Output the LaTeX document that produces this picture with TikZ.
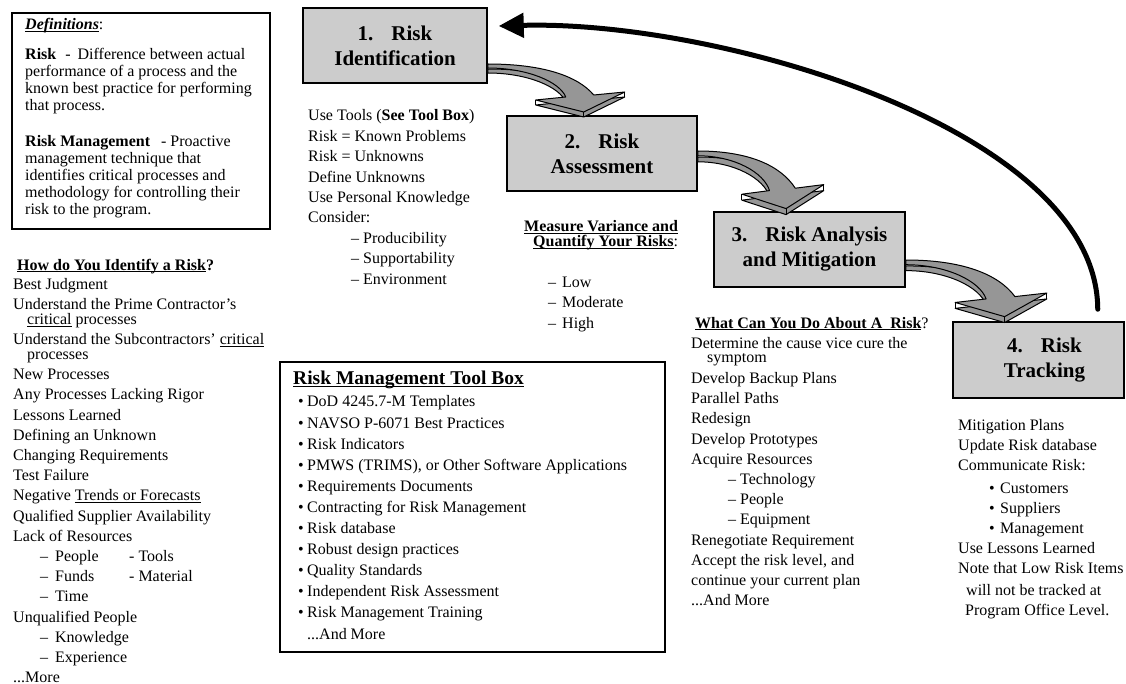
\documentclass[tikz,border=0pt]{standalone}
\usepackage{fontspec}
\setmainfont{Liberation Serif}
\usetikzlibrary{arrows.meta,calc}
\definecolor{boxgray}{RGB}{204,204,204}
\definecolor{arrgray}{RGB}{150,150,150}
\newcommand{\ulin}[1]{\setbox0\hbox{#1}\rlap{\rule[-2.2pt]{\wd0}{0.9pt}}\box0\relax}
\newcommand{\bul}{\makebox[9pt][l]{•}}
\tikzset{
  txt/.style={anchor=base west, inner sep=0pt, align=left, font=\fontsize{16}{20.2}\selectfont},
  stepbox/.style={draw=black, line width=1.5pt, fill=boxgray, align=center, inner sep=0pt,
    font=\bfseries\fontsize{21}{25}\selectfont},
  framebox/.style={draw=black, inner sep=0pt},
  garrowface/.style={fill=arrgray, draw=black, line width=1pt, line join=round},
  bigarrow/.style={line width=5pt, line cap=round, -{Triangle[length=25pt,width=24pt]}},
  garrow/.pic={
    \path[garrowface] (0,5) .. controls (55,5) and (90,17) .. (106,36) -- (137,33) -- (96,53) -- (48,41) -- (78,38) .. controls (72,23) and (40,9) .. (0,9) -- cycle;
    \draw[line width=1pt] (137,28) -- (137,33) (96,48) -- (96,53) (48,36) -- (48,41);
    \path[garrowface] (0,0) .. controls (55,0) and (90,12) .. (106,31) -- (137,28) -- (96,48) -- (48,36) -- (78,33) .. controls (72,18) and (40,4) .. (0,4) -- cycle;
  }
}
\begin{document}
\begin{tikzpicture}[x=1pt,y=-1pt]
\useasboundingbox (0,0) rectangle (1126,684);

% definitions box
\node[framebox, line width=1.5pt, minimum width=258pt, minimum height=216pt] (defbox) at (141,121) {};
\node[txt, font=\fontsize{16}{17}\selectfont] (deftext) at (25,215) {\ulin{\textbf{\textit{Definitions}}}:\\[13pt]
\textbf{Risk}\hspace{9pt}-\hspace{7pt}Difference between actual\\
performance of a process and the\\
known best practice for performing\\
that process.\\[19pt]
\textbf{Risk Management}\hspace{11pt}-\hspace{4pt}Proactive\\
management technique that\\
identifies critical processes and\\
methodology for controlling their\\
risk to the program.};

% left list
\node[txt] (ident) at (13,682.6) {\hspace*{4pt}\textbf{\ulin{How do You Identify a Risk}?}\\[-1.2pt]
Best Judgment\\
Understand the Prime Contractor’s\\[-5.2pt]
\hspace*{14pt}\ulin{critical} processes\\
Understand the Subcontractors’ \ulin{critical}\\[-5.2pt]
\hspace*{14pt}processes\\
New Processes\\
Any Processes Lacking Rigor\\
Lessons Learned\\
Defining an Unknown\\
Changing Requirements\\
Test Failure\\
Negative \ulin{Trends or Forecasts}\\
Qualified Supplier Availability\\
Lack of Resources\\
\hspace*{27pt}\makebox[89pt][l]{–\hspace{7pt}People}- Tools\\
\hspace*{27pt}\makebox[89pt][l]{–\hspace{7pt}Funds}- Material\\
\hspace*{27pt}–\hspace{7pt}Time\\
Unqualified People\\
\hspace*{27pt}–\hspace{7pt}Knowledge\\
\hspace*{27pt}–\hspace{7pt}Experience\\
...More};

% step boxes
\node[stepbox, minimum width=184pt, minimum height=75pt] (s1) at (395,45.5) {1.\hspace{18pt}Risk\\Identification};
\node[stepbox, minimum width=190pt, minimum height=75pt] (s2) at (602,153.5) {2.\hspace{18pt}Risk\\Assessment};
\node[stepbox, minimum width=191pt, minimum height=75pt] (s3) at (809.5,249.5) {3.\hspace{18pt}Risk Analysis\\and Mitigation};
\node[stepbox, minimum width=171pt, minimum height=76pt] (s4) at (1038.5,360) {\hspace*{12pt}4.\hspace{18pt}Risk\\\hspace*{12pt}Tracking};

% gray block arrows
\pic (a1) at ($(s1.east)+(0,18.5)$) {garrow};
\pic[xscale=0.92, yscale=1.2] (a2) at ($(s2.east)+(0,-2.5)$) {garrow};
\pic[xscale=1.03, yscale=1.18] (a3) at ($(s3.east)+(0,10.5)$) {garrow};

% big black return arrow
\coordinate (bstart) at ($(s4.north east)+(-27,-12)$);
\coordinate (bend) at ($(s1.east)+(11,-19.5)$);
\draw[bigarrow] (bstart) .. controls (1097,130) and (720,20) .. (bend);

% step 1 list
\node[txt, font=\fontsize{16}{20.4}\selectfont] (list1) at (308,284.2) {Use Tools (\textbf{See Tool Box})\\
Risk = Known Problems\\
Risk = Unknowns\\
Define Unknowns\\
Use Personal Knowledge\\
Consider:\\
\hspace*{43pt}– Producibility\\
\hspace*{43pt}– Supportability\\
\hspace*{43pt}– Environment};

% step 2 text
\node[txt] (meas) at (524,247) {\textbf{\ulin{Measure Variance and}}\\[-5.2pt]
\hspace*{9pt}\textbf{\ulin{Quantify Your Risks}}:};
\node[txt, font=\fontsize{16}{20.5}\selectfont] (levels) at (548,328) {–\hspace{6pt}Low\\
–\hspace{6pt}Moderate\\
–\hspace{6pt}High};

% step 3 list
\node[txt] (list3) at (691,605.7) {\hspace*{4pt}\textbf{\ulin{What Can You Do About A\ \ Risk}}?\\[0.3pt]
Determine the cause vice cure the\\[-6.2pt]
\hspace*{16pt}symptom\\[0.8pt]
Develop Backup Plans\\
Parallel Paths\\
Redesign\\
Develop Prototypes\\
Acquire Resources\\
\hspace*{37pt}– Technology\\
\hspace*{37pt}– People\\
\hspace*{37pt}– Equipment\\
Renegotiate Requirement\\
Accept the risk level, and\\
continue your current plan\\
...And More};

% step 4 list
\node[txt, font=\fontsize{16}{20}\selectfont] (list4) at (958,615) {Mitigation Plans\\
Update Risk database\\
Communicate Risk:\\[3pt]
\hspace*{31pt}\makebox[11pt][l]{•}Customers\\
\hspace*{31pt}\makebox[11pt][l]{•}Suppliers\\
\hspace*{31pt}\makebox[11pt][l]{•}Management\\
Use Lessons Learned\\
Note that Low Risk Items\\[2pt]
\hspace*{8pt}will not be tracked at\\
\hspace*{7pt}Program Office Level.};

% tool box
\node[framebox, line width=2pt, minimum width=385pt, minimum height=290pt] (tbox) at (472.5,507) {};
\node[txt, font=\fontsize{16}{21.1}\selectfont] (tools) at (293,639) {\textbf{\fontsize{19.5}{20}\selectfont\ulin{Risk Management Tool Box}}\\[0.9pt]
\hspace*{5pt}\bul DoD 4245.7-M Templates\\
\hspace*{5pt}\bul NAVSO P-6071 Best Practices\\
\hspace*{5pt}\bul Risk Indicators\\
\hspace*{5pt}\bul PMWS (TRIMS), or Other Software Applications\\
\hspace*{5pt}\bul Requirements Documents\\
\hspace*{5pt}\bul Contracting for Risk Management\\
\hspace*{5pt}\bul Risk database\\
\hspace*{5pt}\bul Robust design practices\\
\hspace*{5pt}\bul Quality Standards\\
\hspace*{5pt}\bul Independent Risk Assessment\\
\hspace*{5pt}\bul Risk Management Training\\
\hspace*{14pt}...And More};
\end{tikzpicture}
\end{document}
